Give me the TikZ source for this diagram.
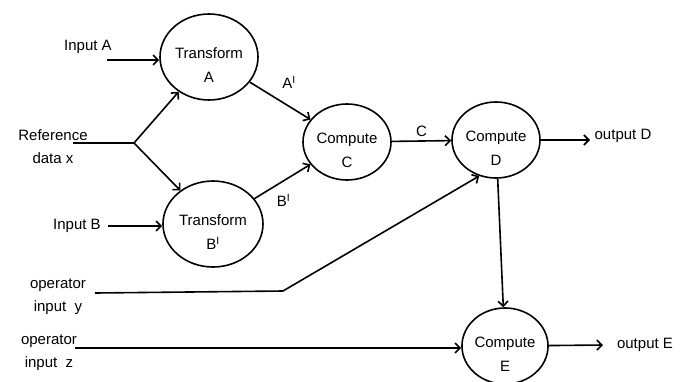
\documentclass[tikz,border=0pt]{standalone}
\usepackage{fontspec}
\setmainfont{Liberation Sans}
\usetikzlibrary{arrows.meta,positioning,shapes.geometric}
\newcommand{\topstrut}{\rule{0pt}{27pt}}

\begin{document}
\begin{tikzpicture}[x=1pt,y=-1pt,
  every node/.style={font=\fontsize{15}{23}\selectfont},
  proc/.style={draw,ellipse,line width=1.6pt,align=center,inner sep=0pt,
    font=\fontsize{15}{24}\selectfont},
  lbl/.style={align=center},
  flow/.style={line width=1.6pt,-{Straight Barb[length=5pt,width=10pt]}},
  wire/.style={line width=1.6pt}]
\useasboundingbox[fill=white] (0,0) rectangle (680,381);

% processes
\node[proc,minimum width=98pt,minimum height=86pt] (tfA) at (209,57) {\topstrut Transform\\A};
\node[proc,minimum width=100pt,minimum height=86pt] (tfB) at (213,224) {\topstrut Transform\\B\textsuperscript{I}};
\node[proc,minimum width=88pt,minimum height=76pt] (cmpC) at (347,142) {\topstrut Compute\\C};
\node[proc,minimum width=88pt,minimum height=76pt] (cmpD) at (496,140) {\topstrut Compute\\D};
\node[proc,minimum width=86pt,minimum height=76pt] (cmpE) at (505,346) {\topstrut Compute\\E};

% inputs and outputs
\node[lbl] (inA) at (88,47) {Input A};
\node[lbl] (refx) at (53,147) {Reference\\data x};
\node[lbl] (inB) at (77,226) {Input B};
\node[lbl] (opy) at (58,297) {operator\\input\ \ y};
\node[lbl] (opz) at (49,353) {operator\\input\ \ z};
\node[lbl] (outD) at (623,136) {output D};
\node[lbl] (outE) at (645,345) {output E};

\coordinate (inAend) at (107,60);
\coordinate (refend) at (73,143);
\coordinate (split) at (134,143);
\coordinate (inBend) at (108,226);
\coordinate (opyend) at (95,293);
\coordinate (bend) at (283,291);
\coordinate (opzend) at (75,348);
\coordinate (outDend) at (590,140);
\coordinate (outEend) at (603,345);

% connectors
\draw[flow] (inAend) -- (tfA.west |- inAend);
\draw[wire] (refend) -- (split);
\draw[flow] (split) -- (tfA);
\draw[flow] (split) -- (tfB);
\draw[flow] (inBend) -- (tfB.west |- inBend);
\draw[flow] (tfA) -- node[pos=0.4,above right=6pt] {A\textsuperscript{I}} (cmpC);
\draw[flow] (tfB) -- node[pos=0.3,below right=2pt] {B\textsuperscript{I}} (cmpC);
\draw[flow] (cmpC) -- node[above] {C} (cmpD);
\draw[flow] (cmpD) -- (outDend);
\draw[flow] (cmpD) -- (cmpE);
\draw[flow] (opyend) -- (bend) -- (cmpD.245);
\draw[flow] (opzend) -- (cmpE.west |- opzend);
\draw[flow] (cmpE) -- (outEend);
\end{tikzpicture}
\end{document}
